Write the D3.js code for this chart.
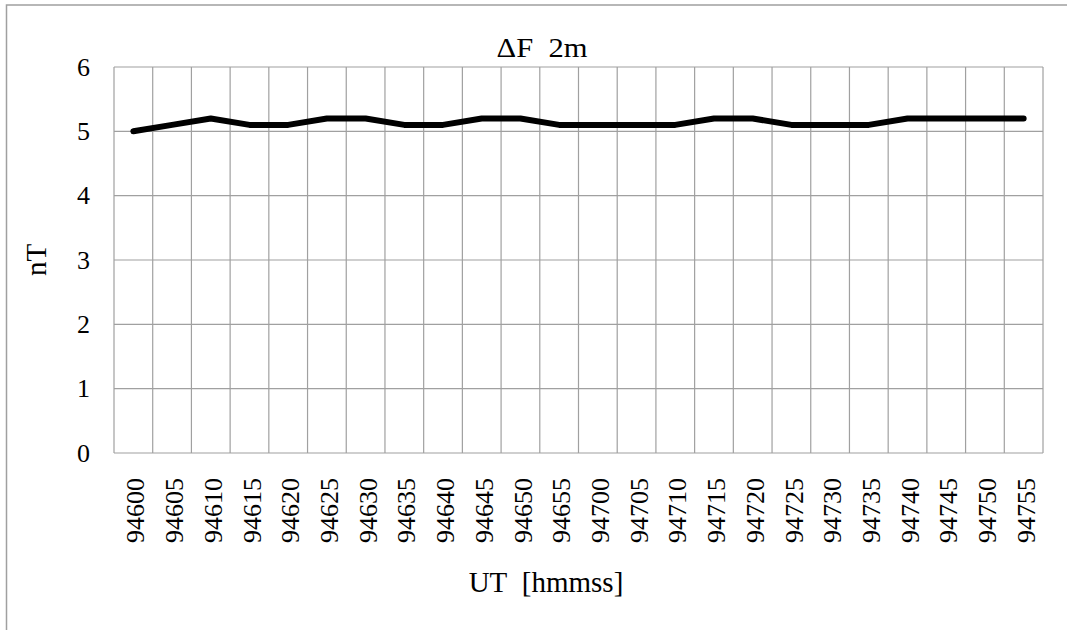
<!DOCTYPE html>
<html>
<head>
<meta charset="utf-8">
<script src="https://d3js.org/d3.v7.min.js"></script>
<style>
  body { margin: 0; background: #fff; }
  svg text { font-family: "Times New Roman", "Liberation Serif", "DejaVu Serif", serif !important; fill: #000; }
</style>
</head>
<body>
<script>
// chart data
let times = ["94600", "94605", "94610", "94615", "94620", "94625", "94630", "94635",
             "94640", "94645", "94650", "94655", "94700", "94705", "94710", "94715",
             "94720", "94725", "94730", "94735", "94740", "94745", "94750", "94755"];
let deltaF = [5.0, 5.1, 5.2, 5.1, 5.1, 5.2, 5.2, 5.1, 5.1, 5.2, 5.2, 5.1,
              5.1, 5.1, 5.1, 5.2, 5.2, 5.1, 5.1, 5.1, 5.2, 5.2, 5.2, 5.2];
let yTicks = [0, 1, 2, 3, 4, 5, 6];

let width = 1067, height = 630;
let margin = {top: 67, right: 24, bottom: 177, left: 114};
let serif = "Times New Roman, Liberation Serif, DejaVu Serif, serif";

let svg = d3.select("body").append("svg")
    .attr("width", width)
    .attr("height", height)
    .attr("font-family", serif);

// outer chart frame (only top and left edges show)
svg.append("rect")
    .attr("x", 6.5).attr("y", 5)
    .attr("width", width + 20).attr("height", height + 20)
    .attr("fill", "none")
    .attr("stroke", "#a0a0a0")
    .attr("stroke-width", 1.5);

let x = d3.scaleBand()
    .domain(times)
    .range([margin.left, width - margin.right]);

let y = d3.scaleLinear()
    .domain([0, 6])
    .range([height - margin.bottom, margin.top]);

let grid = svg.append("g").attr("class", "grid")
    .attr("stroke", "#a0a0a0")
    .attr("stroke-width", 1.2);

// horizontal gridlines
grid.selectAll("line.h")
    .data(yTicks)
    .join("line")
        .attr("class", "h")
        .attr("x1", margin.left).attr("x2", width - margin.right)
        .attr("y1", d => y(d)).attr("y2", d => y(d));

// vertical gridlines between categories
let bounds = times.map(d => x(d)).concat([x(times[times.length - 1]) + x.bandwidth()]);
grid.selectAll("line.v")
    .data(bounds)
    .join("line")
        .attr("class", "v")
        .attr("x1", d => d).attr("x2", d => d)
        .attr("y1", margin.top).attr("y2", height - margin.bottom);

// y axis labels
let yAxis = svg.append("g")
    .attr("transform", `translate(${margin.left},0)`)
    .call(d3.axisLeft(y).tickValues(yTicks).tickFormat(d3.format("d")).tickSize(0).tickPadding(24));
yAxis.attr("font-family", serif).attr("font-size", 26);
yAxis.select(".domain").remove();

// x axis labels, rotated
let xAxis = svg.append("g")
    .attr("transform", `translate(0,${height - margin.bottom})`)
    .call(d3.axisBottom(x).tickSize(0));
xAxis.attr("font-family", serif).attr("font-size", 26);
xAxis.select(".domain").remove();
xAxis.selectAll("text")
    .attr("transform", "rotate(-90)")
    .attr("text-anchor", "end")
    .attr("x", -25)
    .attr("y", 2)
    .attr("dy", "0.35em");

// the data line
let line = d3.line()
    .x((d, i) => x(times[i]) + x.bandwidth() / 2)
    .y(d => y(d));

svg.append("path")
    .datum(deltaF)
    .attr("fill", "none")
    .attr("stroke", "#000")
    .attr("stroke-width", 6)
    .attr("stroke-linejoin", "round")
    .attr("stroke-linecap", "round")
    .attr("d", line);

// titles
svg.append("text")
    .attr("x", 542).attr("y", 57)
    .attr("text-anchor", "middle")
    .attr("textLength", 91)
    .attr("lengthAdjust", "spacingAndGlyphs")
    .attr("font-size", 27)
    .text("\u0394F\u00a0\u00a02m");

svg.append("text")
    .attr("transform", `translate(46,${(margin.top + height - margin.bottom) / 2}) rotate(-90)`)
    .attr("text-anchor", "middle")
    .attr("font-size", 29)
    .text("nT");

svg.append("text")
    .attr("x", 546).attr("y", 592)
    .attr("text-anchor", "middle")
    .attr("font-size", 29)
    .text("UT\u00a0\u00a0[hmmss]");
</script>
</body>
</html>
